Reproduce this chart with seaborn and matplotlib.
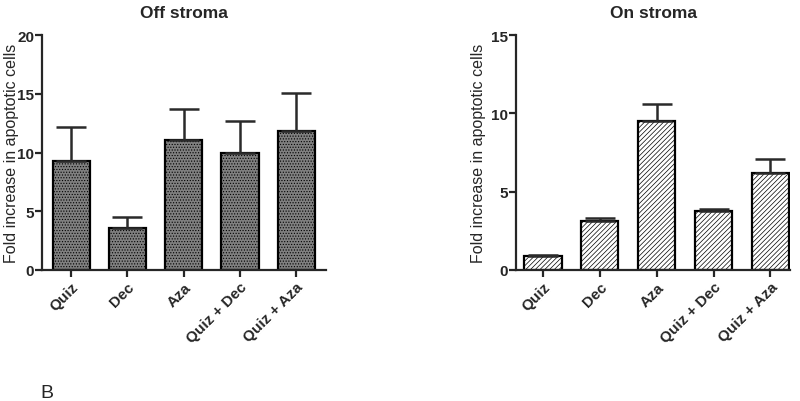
import numpy as np
import pandas as pd
import matplotlib
matplotlib.use('Agg')
import matplotlib.pyplot as plt
import seaborn as sns

categories = ['Quiz', 'Dec', 'Aza', 'Quiz + Dec', 'Quiz + Aza']
off_mean = [9.3, 3.55, 11.1, 9.95, 11.8]
off_err = [2.9, 0.95, 2.65, 2.75, 3.3]
on_mean = [0.9, 3.1, 9.5, 3.75, 6.2]
on_err = [0.05, 0.2, 1.1, 0.15, 0.9]

sns.set_style('ticks')
plt.rcParams['font.family'] = ['Liberation Sans', 'DejaVu Sans']
plt.rcParams['hatch.linewidth'] = 0.5

fig = plt.figure(figsize=(8, 4.02), dpi=100)
ax1 = fig.add_axes([0.0525, 0.326, 0.355, 0.584])
ax2 = fig.add_axes([0.645, 0.326, 0.343, 0.584])


def panel(ax, means, errs, title, ymax, face, hatch, xlim):
    df = pd.DataFrame({'cond': categories, 'val': means})
    sns.barplot(data=df, x='cond', y='val', ax=ax, color=face,
                edgecolor='black', linewidth=1.6, width=0.66, saturation=1)
    for p in ax.patches:
        p.set_facecolor(face)
        p.set_hatch(hatch)
    ax.errorbar(np.arange(len(means)), means,
                yerr=[np.zeros(len(errs)), errs], fmt='none',
                ecolor='#2a2a2a', elinewidth=1.8, capsize=11, capthick=1.8)
    ax.set_ylim(0, ymax)
    ax.set_yticks(np.arange(0, ymax + 1, 5))
    ax.set_xlim(*xlim)
    ax.set_xlabel('')
    ax.set_ylabel('Fold increase in apoptotic cells', fontsize=11.5)
    ax.set_title(title, fontsize=12.5, fontweight='bold', pad=13)
    for s in ['top', 'right']:
        ax.spines[s].set_visible(False)
    for s in ['left', 'bottom']:
        ax.spines[s].set_linewidth(1.6)
    ax.tick_params(width=1.6, length=5, labelsize=11)
    ax.tick_params(axis='y', pad=0.5)
    ax.tick_params(axis='x', pad=2)
    for t in ax.get_yticklabels():
        t.set_fontweight('bold')
    ax.set_xticks(range(len(categories)))
    ax.set_xticklabels(categories, rotation=45, ha='right',
                       rotation_mode='anchor', fontweight='bold')


panel(ax1, off_mean, off_err, 'Off stroma', 20, '#808080', '......',
      (-0.52, 4.53))
panel(ax2, on_mean, on_err, 'On stroma', 15, 'white', '///////',
      (-0.47, 4.35))
ax1.yaxis.set_label_coords(-0.082, 0.5)
ax2.yaxis.set_label_coords(-0.108, 0.5)

fig.text(0.05, 0.01, 'B', fontsize=14)

fig.savefig('out.png', dpi=100)
